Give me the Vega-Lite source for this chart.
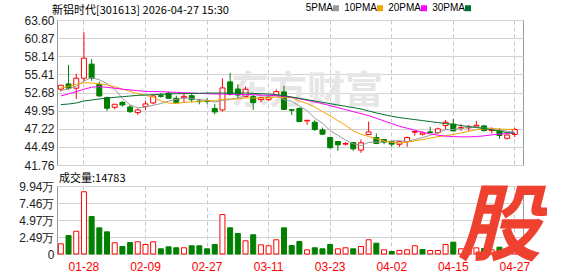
{
  "$schema": "https://vega.github.io/schema/vega-lite/v6.json",
  "background": "white",
  "padding": {"left": 18, "top": 3, "right": 5, "bottom": 0},
  "spacing": 21,
  "bounds": "flush",
  "config": {
    "view": {"stroke": "#999999", "strokeWidth": 1},
    "axis": {"labelFont": "Liberation Sans", "labelFontSize": 12, "labelColor": "#222222", "domain": false, "ticks": false, "gridColor": "#d3d3d3", "gridWidth": 1, "labelPadding": 3, "labelOverlap": false, "labelSeparation": 0},
    "title": {"font": "Noto Sans CJK SC", "fontSize": 11, "fontWeight": "normal", "color": "#000000", "anchor": "start", "frame": "group"}
  },
  "datasets": {
    "k": [
      {"d":"01-23","o":53.18,"h":53.8,"l":52.81,"c":53.78,"cd":"up","v":14900,"vd":"up","5PMA":53.0,"10PMA":53.35,"20PMA":52.16,"30PMA":50.85},
      {"d":"01-26","o":53.97,"h":56.84,"l":53.07,"c":53.33,"cd":"down","v":27000,"vd":"down","5PMA":53.2,"10PMA":53.6,"20PMA":52.47,"30PMA":50.95},
      {"d":"01-27","o":53.33,"h":55.5,"l":51.71,"c":54.83,"cd":"up","v":33300,"vd":"up","5PMA":53.6,"10PMA":53.9,"20PMA":52.81,"30PMA":51.1},
      {"d":"01-28","o":54.83,"h":61.77,"l":54.32,"c":57.85,"cd":"up","v":91000,"vd":"up","5PMA":54.4,"10PMA":54.15,"20PMA":53.17,"30PMA":51.4},
      {"d":"01-29","o":56.95,"h":57.7,"l":54.43,"c":54.83,"cd":"down","v":54800,"vd":"down","5PMA":54.92,"10PMA":54.1,"20PMA":53.48,"30PMA":51.55},
      {"d":"01-30","o":53.9,"h":54.32,"l":52.06,"c":52.16,"cd":"down","v":38300,"vd":"down","5PMA":54.6,"10PMA":54.0,"20PMA":53.57,"30PMA":51.7},
      {"d":"02-02","o":51.91,"h":52.06,"l":49.9,"c":50.31,"cd":"down","v":32400,"vd":"down","5PMA":54.0,"10PMA":53.8,"20PMA":53.45,"30PMA":51.85},
      {"d":"02-03","o":50.46,"h":50.96,"l":50.16,"c":50.91,"cd":"up","v":16400,"vd":"up","5PMA":53.21,"10PMA":53.55,"20PMA":53.33,"30PMA":51.95},
      {"d":"02-04","o":51.2,"h":51.4,"l":50.55,"c":50.8,"cd":"down","v":11000,"vd":"down","5PMA":51.8,"10PMA":53.2,"20PMA":53.17,"30PMA":52.05},
      {"d":"02-05","o":50.5,"h":50.8,"l":49.6,"c":49.8,"cd":"down","v":16800,"vd":"down","5PMA":50.8,"10PMA":52.86,"20PMA":53.07,"30PMA":52.15},
      {"d":"02-06","o":49.65,"h":50.3,"l":49.3,"c":50.05,"cd":"up","v":17800,"vd":"up","5PMA":50.37,"10PMA":52.49,"20PMA":52.95,"30PMA":52.25},
      {"d":"02-09","o":50.56,"h":51.4,"l":50.05,"c":50.96,"cd":"up","v":13900,"vd":"up","5PMA":50.5,"10PMA":52.25,"20PMA":52.85,"30PMA":52.3},
      {"d":"02-10","o":51.11,"h":52.32,"l":50.9,"c":52.16,"cd":"up","v":17800,"vd":"up","5PMA":50.75,"10PMA":51.98,"20PMA":52.82,"30PMA":52.35},
      {"d":"02-11","o":52.2,"h":52.6,"l":51.9,"c":52.1,"cd":"down","v":7600,"vd":"down","5PMA":51.01,"10PMA":51.41,"20PMA":52.8,"30PMA":52.4},
      {"d":"02-12","o":52.57,"h":52.8,"l":51.8,"c":51.8,"cd":"down","v":10500,"vd":"down","5PMA":51.41,"10PMA":51.11,"20PMA":52.75,"30PMA":52.45},
      {"d":"02-13","o":51.8,"h":52.2,"l":51.1,"c":51.2,"cd":"down","v":9100,"vd":"down","5PMA":51.64,"10PMA":51.01,"20PMA":52.7,"30PMA":52.5},
      {"d":"02-24","o":51.9,"h":52.5,"l":51.2,"c":52.1,"cd":"up","v":9100,"vd":"up","5PMA":51.87,"10PMA":51.19,"20PMA":52.65,"30PMA":52.5},
      {"d":"02-25","o":52.2,"h":52.6,"l":51.2,"c":51.6,"cd":"down","v":12000,"vd":"down","5PMA":51.76,"10PMA":51.26,"20PMA":52.6,"30PMA":52.55},
      {"d":"02-26","o":51.4,"h":51.7,"l":50.9,"c":51.3,"cd":"down","v":12000,"vd":"down","5PMA":51.6,"10PMA":51.31,"20PMA":52.55,"30PMA":52.55},
      {"d":"02-27","o":51.45,"h":51.8,"l":50.9,"c":51.35,"cd":"down","v":7600,"vd":"down","5PMA":51.51,"10PMA":51.46,"20PMA":52.5,"30PMA":52.6},
      {"d":"03-02","o":50.28,"h":50.96,"l":49.38,"c":49.75,"cd":"down","v":13900,"vd":"down","5PMA":51.22,"10PMA":51.43,"20PMA":52.45,"30PMA":52.6},
      {"d":"03-03","o":50.05,"h":54.8,"l":49.83,"c":53.37,"cd":"up","v":57700,"vd":"up","5PMA":51.47,"10PMA":51.67,"20PMA":52.45,"30PMA":52.6},
      {"d":"03-04","o":54.28,"h":55.63,"l":52.24,"c":52.39,"cd":"down","v":38300,"vd":"down","5PMA":51.63,"10PMA":51.7,"20PMA":52.42,"30PMA":52.6},
      {"d":"03-05","o":53.2,"h":53.9,"l":51.8,"c":52.3,"cd":"down","v":30000,"vd":"down","5PMA":51.83,"10PMA":51.72,"20PMA":52.4,"30PMA":52.6},
      {"d":"03-06","o":52.06,"h":53.57,"l":51.97,"c":53.17,"cd":"up","v":19300,"vd":"up","5PMA":52.2,"10PMA":51.85,"20PMA":52.38,"30PMA":52.6},
      {"d":"03-09","o":52.06,"h":52.3,"l":50.05,"c":51.15,"cd":"down","v":28100,"vd":"down","5PMA":52.48,"10PMA":51.85,"20PMA":52.35,"30PMA":52.55},
      {"d":"03-10","o":51.6,"h":51.95,"l":51.2,"c":51.9,"cd":"up","v":13400,"vd":"up","5PMA":52.18,"10PMA":51.83,"20PMA":52.3,"30PMA":52.5},
      {"d":"03-11","o":51.6,"h":52.3,"l":51.4,"c":51.95,"cd":"up","v":12000,"vd":"up","5PMA":52.09,"10PMA":51.86,"20PMA":52.25,"30PMA":52.45},
      {"d":"03-12","o":52.27,"h":53.15,"l":52.24,"c":52.81,"cd":"up","v":20800,"vd":"up","5PMA":52.2,"10PMA":52.01,"20PMA":52.2,"30PMA":52.35},
      {"d":"03-13","o":52.77,"h":53.67,"l":50.05,"c":50.13,"cd":"down","v":38300,"vd":"down","5PMA":51.59,"10PMA":51.89,"20PMA":52.1,"30PMA":52.2},
      {"d":"03-16","o":50.1,"h":50.1,"l":49.3,"c":50.0,"cd":"down","v":12400,"vd":"down","5PMA":51.36,"10PMA":51.92,"20PMA":51.95,"30PMA":52.0},
      {"d":"03-17","o":50.3,"h":50.4,"l":48.3,"c":48.3,"cd":"down","v":18300,"vd":"down","5PMA":50.64,"10PMA":51.41,"20PMA":51.75,"30PMA":51.8},
      {"d":"03-18","o":48.4,"h":48.5,"l":47.8,"c":48.5,"cd":"up","v":6100,"vd":"up","5PMA":49.95,"10PMA":51.02,"20PMA":51.5,"30PMA":51.6},
      {"d":"03-19","o":48.2,"h":48.5,"l":46.9,"c":47.1,"cd":"down","v":9100,"vd":"down","5PMA":48.81,"10PMA":50.5,"20PMA":51.25,"30PMA":51.4},
      {"d":"03-20","o":47.04,"h":47.4,"l":46.3,"c":46.4,"cd":"down","v":7600,"vd":"down","5PMA":48.06,"10PMA":49.82,"20PMA":51.0,"30PMA":51.2},
      {"d":"03-23","o":45.9,"h":46.0,"l":44.2,"c":44.37,"cd":"down","v":13900,"vd":"down","5PMA":46.93,"10PMA":49.15,"20PMA":50.7,"30PMA":51.0},
      {"d":"03-24","o":45.3,"h":45.3,"l":43.9,"c":44.8,"cd":"down","v":7600,"vd":"up","5PMA":46.23,"10PMA":48.44,"20PMA":50.4,"30PMA":50.8},
      {"d":"03-25","o":44.9,"h":45.2,"l":44.7,"c":45.0,"cd":"up","v":9100,"vd":"up","5PMA":45.53,"10PMA":47.74,"20PMA":50.1,"30PMA":50.6},
      {"d":"03-26","o":45.15,"h":45.2,"l":43.9,"c":44.2,"cd":"down","v":7600,"vd":"down","5PMA":44.95,"10PMA":46.88,"20PMA":49.8,"30PMA":50.4},
      {"d":"03-27","o":44.0,"h":45.6,"l":43.6,"c":45.1,"cd":"up","v":11000,"vd":"up","5PMA":44.69,"10PMA":46.38,"20PMA":49.5,"30PMA":50.2},
      {"d":"03-30","o":46.36,"h":48.29,"l":46.33,"c":46.74,"cd":"up","v":20800,"vd":"up","5PMA":45.17,"10PMA":46.05,"20PMA":49.2,"30PMA":49.9},
      {"d":"03-31","o":45.9,"h":46.5,"l":44.9,"c":45.0,"cd":"down","v":15800,"vd":"down","5PMA":45.21,"10PMA":45.72,"20PMA":48.8,"30PMA":49.6},
      {"d":"04-01","o":45.6,"h":45.6,"l":44.9,"c":45.2,"cd":"down","v":6100,"vd":"up","5PMA":45.25,"10PMA":45.39,"20PMA":48.4,"30PMA":49.35},
      {"d":"04-02","o":45.27,"h":45.3,"l":44.5,"c":44.9,"cd":"down","v":3700,"vd":"down","5PMA":45.39,"10PMA":45.17,"20PMA":48.0,"30PMA":49.1},
      {"d":"04-03","o":44.88,"h":45.3,"l":44.5,"c":45.27,"cd":"up","v":5100,"vd":"up","5PMA":45.42,"10PMA":45.06,"20PMA":47.6,"30PMA":48.9},
      {"d":"04-07","o":45.3,"h":46.05,"l":44.5,"c":45.9,"cd":"up","v":6100,"vd":"up","5PMA":45.25,"10PMA":45.21,"20PMA":47.3,"30PMA":48.75},
      {"d":"04-08","o":46.7,"h":46.9,"l":46.2,"c":46.8,"cd":"up","v":12000,"vd":"up","5PMA":45.61,"10PMA":45.41,"20PMA":47.0,"30PMA":48.6},
      {"d":"04-09","o":46.4,"h":46.8,"l":46.2,"c":46.6,"cd":"up","v":6600,"vd":"down","5PMA":45.89,"10PMA":45.57,"20PMA":46.7,"30PMA":48.45},
      {"d":"04-10","o":46.75,"h":47.5,"l":46.5,"c":46.65,"cd":"down","v":5100,"vd":"up","5PMA":46.24,"10PMA":45.82,"20PMA":46.45,"30PMA":48.3},
      {"d":"04-13","o":46.65,"h":47.4,"l":46.4,"c":47.2,"cd":"up","v":5100,"vd":"up","5PMA":46.63,"10PMA":46.03,"20PMA":46.25,"30PMA":48.15},
      {"d":"04-14","o":47.7,"h":48.55,"l":47.04,"c":48.2,"cd":"up","v":13900,"vd":"up","5PMA":47.09,"10PMA":46.17,"20PMA":46.1,"30PMA":48.0},
      {"d":"04-15","o":47.9,"h":48.7,"l":46.8,"c":46.9,"cd":"down","v":17300,"vd":"down","5PMA":47.11,"10PMA":46.36,"20PMA":46.04,"30PMA":47.9},
      {"d":"04-16","o":47.3,"h":47.9,"l":46.9,"c":47.4,"cd":"up","v":7600,"vd":"up","5PMA":47.27,"10PMA":46.58,"20PMA":46.0,"30PMA":47.7},
      {"d":"04-17","o":47.35,"h":47.8,"l":46.9,"c":47.45,"cd":"up","v":8000,"vd":"up","5PMA":47.43,"10PMA":46.84,"20PMA":46.0,"30PMA":47.55},
      {"d":"04-20","o":47.6,"h":48.4,"l":47.5,"c":47.75,"cd":"up","v":9000,"vd":"up","5PMA":47.54,"10PMA":47.09,"20PMA":46.05,"30PMA":47.4},
      {"d":"04-21","o":47.65,"h":47.7,"l":46.8,"c":46.95,"cd":"down","v":8000,"vd":"down","5PMA":47.29,"10PMA":47.19,"20PMA":46.15,"30PMA":47.25},
      {"d":"04-22","o":46.95,"h":47.4,"l":46.5,"c":47.0,"cd":"up","v":6000,"vd":"up","5PMA":47.31,"10PMA":47.21,"20PMA":46.3,"30PMA":47.05},
      {"d":"04-23","o":46.9,"h":47.3,"l":45.7,"c":46.2,"cd":"down","v":10000,"vd":"down","5PMA":47.07,"10PMA":47.17,"20PMA":46.4,"30PMA":46.85},
      {"d":"04-24","o":45.78,"h":46.3,"l":45.6,"c":46.28,"cd":"up","v":6100,"vd":"up","5PMA":46.84,"10PMA":47.13,"20PMA":46.5,"30PMA":46.65},
      {"d":"04-27","o":46.36,"h":47.34,"l":45.98,"c":47.11,"cd":"up","v":14783,"vd":"up","5PMA":46.71,"10PMA":47.12,"20PMA":46.6,"30PMA":46.5}
    ]
  },
  "vconcat": [
    {
      "width": 466,
      "height": 145,
      "title": {"text": "新铝时代[301613] 2026-04-27 15:30", "dx": -5, "offset": -2},
      "data": {"name": "k"},
      "encoding": {
        "x": {
          "field": "d", "type": "ordinal", "title": null,
          "scale": {"paddingInner": 0, "paddingOuter": 0.28, "align": 0},
          "axis": {"values": ["01-28","02-09","02-27","03-11","03-23","04-02","04-15","04-27"], "labels": false, "grid": true, "gridDash": [4, 3], "gridColor": "#c8c8c8", "bandPosition": 0.5, "domain": false, "ticks": false}
        }
      },
      "layer": [
        {
          "data": {"values": [{}]},
          "mark": {"type": "text", "text": "东方财富", "font": "Noto Sans CJK SC", "fontSize": 38, "fontWeight": "bold", "color": "#e6e6e6", "align": "center", "baseline": "middle"},
          "encoding": {
            "x": {"datum": "03-18", "type": "ordinal"},
            "y": {"datum": 52.8, "type": "quantitative", "title": null, "scale": {"domain": [41.76, 63.6], "nice": false, "zero": false},
                  "axis": {"values": [41.76, 44.49, 47.22, 49.95, 52.68, 55.41, 58.14, 60.87, 63.6], "format": ".2f", "grid": true, "labelOverlap": false}}
          }
        },
        {
          "mark": {"type": "rule", "strokeWidth": 1},
          "encoding": {
            "y": {"field": "l", "type": "quantitative", "title": null, "scale": {"domain": [41.76, 63.6], "nice": false, "zero": false},
                  "axis": {"values": [41.76, 44.49, 47.22, 49.95, 52.68, 55.41, 58.14, 60.87, 63.6], "format": ".2f", "grid": true, "labelOverlap": false}},
            "y2": {"field": "h"},
            "stroke": {"field": "cd", "type": "nominal", "scale": {"domain": ["up", "down"], "range": ["#ff0000", "#008000"]}, "legend": null}
          }
        },
        {
          "mark": {"type": "bar", "width": 5, "strokeWidth": 1},
          "encoding": {
            "y": {"field": "o", "type": "quantitative", "title": null, "scale": {"domain": [41.76, 63.6], "nice": false, "zero": false},
                  "axis": {"values": [41.76, 44.49, 47.22, 49.95, 52.68, 55.41, 58.14, 60.87, 63.6], "format": ".2f", "grid": true, "labelOverlap": false}},
            "y2": {"field": "c"},
            "fill": {"field": "cd", "type": "nominal", "scale": {"domain": ["up", "down"], "range": ["#ffffff", "#008000"]}, "legend": null},
            "stroke": {"field": "cd", "type": "nominal", "scale": {"domain": ["up", "down"], "range": ["#ff0000", "#008000"]}, "legend": null}
          }
        },
        {
          "transform": [{"fold": ["5PMA", "10PMA", "20PMA", "30PMA"], "as": ["ma", "val"]}],
          "mark": {"type": "line", "strokeWidth": 1},
          "encoding": {
            "y": {"field": "val", "type": "quantitative", "title": null, "scale": {"domain": [41.76, 63.6], "nice": false, "zero": false},
                  "axis": {"values": [41.76, 44.49, 47.22, 49.95, 52.68, 55.41, 58.14, 60.87, 63.6], "format": ".2f", "grid": true, "labelOverlap": false}},
            "color": {
              "field": "ma", "type": "nominal",
              "scale": {"domain": ["5PMA", "10PMA", "20PMA", "30PMA"], "range": ["#9a9a9a", "#f5a300", "#ff00ff", "#00702d"]},
              "legend": {"orient": "none", "legendX": 274, "legendY": -17, "direction": "horizontal", "title": null, "symbolType": "square", "symbolSize": 9, "symbolStrokeWidth": 3, "labelFont": "Liberation Sans Narrow, Liberation Sans", "labelFontSize": 10, "labelColor": "#000000", "labelAlign": "right", "labelOffset": -8, "columnPadding": 0}
            }
          }
        }
      ]
    },
    {
      "width": 466,
      "height": 68,
      "title": {"text": "成交量:14783", "dx": 2, "offset": -4},
      "data": {"name": "k"},
      "encoding": {
        "x": {
          "field": "d", "type": "ordinal", "title": null,
          "scale": {"paddingInner": 0, "paddingOuter": 0.28, "align": 0},
          "axis": {"values": ["01-28","02-09","02-27","03-11","03-23","04-02","04-15","04-27"], "labelColor": "#ff0000", "labelAngle": 0, "labelPadding": 7, "grid": true, "gridDash": [4, 3], "gridColor": "#c8c8c8", "bandPosition": 0.5, "domain": false, "ticks": false}
        }
      },
      "layer": [
        {
          "mark": {"type": "bar", "width": 5, "strokeWidth": 1},
          "encoding": {
            "y": {"field": "v", "type": "quantitative", "title": null, "scale": {"domain": [0, 99420], "nice": false},
                  "axis": {"values": [0, 24855, 49710, 74565, 99420], "labelExpr": "datum.value == 0 ? '0' : format(datum.value / 10000, '.2f') + '万'", "grid": true, "labelOverlap": false}},
            "fill": {"field": "vd", "type": "nominal", "scale": {"domain": ["up", "down"], "range": ["#ffffff", "#008000"]}, "legend": null},
            "stroke": {"field": "vd", "type": "nominal", "scale": {"domain": ["up", "down"], "range": ["#ff0000", "#008000"]}, "legend": null}
          }
        },
        {
          "data": {"values": [{}]},
          "mark": {"type": "text", "text": "股", "font": "Noto Sans CJK SC", "fontSize": 84, "fontWeight": "bold", "fontStyle": "italic", "color": "#ee4130", "align": "center", "baseline": "middle"},
          "encoding": {
            "x": {"datum": "04-23", "type": "ordinal"},
            "y": {"datum": 36000, "type": "quantitative", "title": null, "scale": {"domain": [0, 99420], "nice": false},
                  "axis": {"values": [0, 24855, 49710, 74565, 99420], "labelExpr": "datum.value == 0 ? '0' : format(datum.value / 10000, '.2f') + '万'", "grid": true, "labelOverlap": false}}
          }
        }
      ]
    }
  ]
}
